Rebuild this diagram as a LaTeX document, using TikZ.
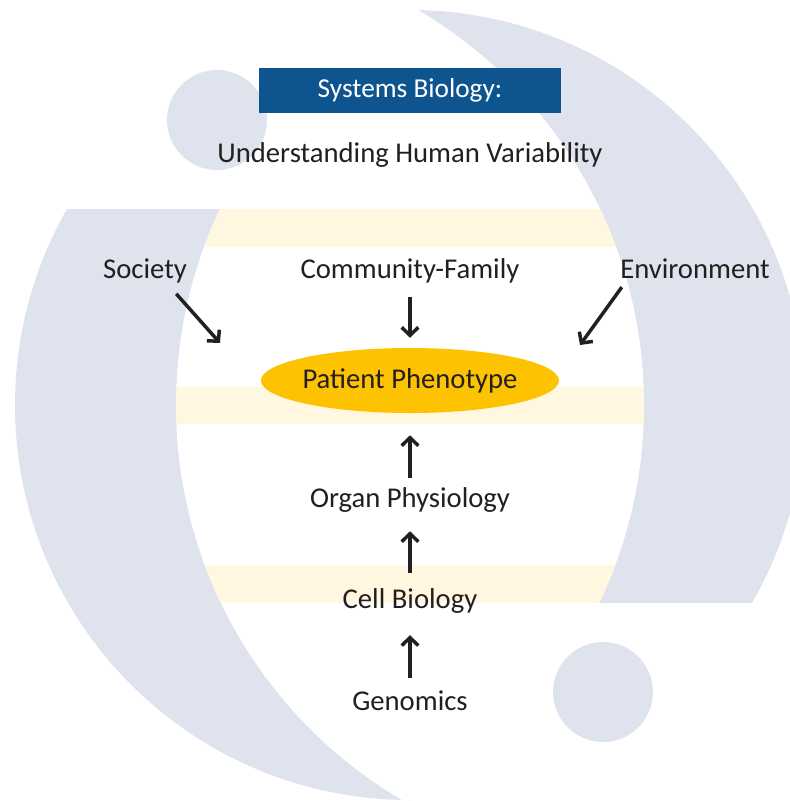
\documentclass[tikz,border=0pt]{standalone}
\usepackage{fontspec}
\setmainfont{Carlito}
\usetikzlibrary{arrows.meta, shapes.geometric, positioning}

\definecolor{crescent}{HTML}{DEE3ED}
\definecolor{band}{HTML}{FFF7DF}
\definecolor{titleblue}{HTML}{0E548F}
\definecolor{phenogold}{HTML}{FDC300}
\definecolor{ink}{HTML}{231F20}

\begin{document}
\begin{tikzpicture}[x=0.75pt, y=-0.75pt,
    lbl/.style={text=ink, inner sep=0pt, anchor=base, font=\fontsize{21.5}{26}\selectfont},
    arr/.style={draw=ink, line width=2.6pt, -{Straight Barb[length=6pt, width=12.5pt]}}]
  \useasboundingbox (0,0) rectangle (790,801);
  \clip (0,0) rectangle (790,801);

  % crescents, white lens and pale bands
  \begin{scope}
    \clip (410,405) circle (395);
    \fill[crescent] (0,209) rectangle (410,801);
    \fill[crescent] (410,0) rectangle (790,603);
    \clip (634,405) circle (458);
    \clip (186,405) circle (458);
    \fill[white] (0,0) rectangle (790,801);
    \fill[band] (0,209) rectangle (790,247);
    \fill[band] (0,387) rectangle (790,424);
    \fill[band] (0,565) rectangle (790,603);
  \end{scope}
  \fill[crescent] (217,120) circle (50);
  \fill[crescent] (603,692) circle (50);

  \node[fill=titleblue, text=white, minimum width=226.5pt, minimum height=33.75pt,
    font=\fontsize{20.5}{24}\selectfont] (sys) at (410,90.5) {Systems Biology:};
  \node[lbl] (und) at (410,162) {Understanding Human Variability};

  \node[lbl] (soc) at (145,278) {Society};
  \node[lbl] (com) at (410,278) {Community-Family};
  \node[lbl] (env) at (695,278) {Environment};
  \node[ellipse, fill=phenogold, inner xsep=-4pt, inner ysep=0pt, minimum width=223.5pt,
    minimum height=48.75pt, text=ink, font=\fontsize{21.5}{26}\selectfont] (pat) at (410,380.5) {Patient Phenotype};
  \node[lbl] (org) at (410,507) {Organ Physiology};
  \node[lbl] (cell) at (410,608) {Cell Biology};
  \node[lbl] (gen) at (410,710) {Genomics};

  \coordinate (socin) at (220,343);
  \coordinate (envin) at (580,345);

  \draw
  (soc.-30) edge[arr, shorten <=11pt] (socin)
  ([xshift=6pt]env.south west) edge[arr, shorten <=8pt] (envin)
  (com) edge[arr, shorten <=10.5pt, shorten >=7.5pt] (pat)
  (org) edge[arr, shorten <=6.4pt, shorten >=16.5pt] (pat)
  (cell) edge[arr, shorten <=10.9pt, shorten >=14.3pt] (org)
  (gen) edge[arr, shorten <=9pt, shorten >=16.5pt] (cell);
\end{tikzpicture}
\end{document}
